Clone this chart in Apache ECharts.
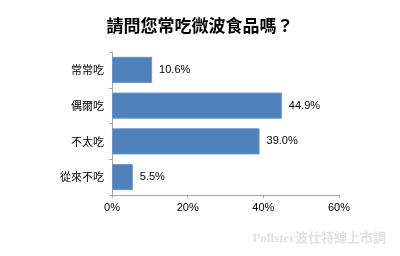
<!DOCTYPE html>
<html>
<head>
<meta charset="utf-8">
<script src="https://cdn.jsdelivr.net/npm/echarts@6/dist/echarts.min.js"></script>
<style>
  html, body { margin: 0; padding: 0; background: #fff; }
  #chart { width: 400px; height: 256px; }
</style>
</head>
<body>
<div id="chart"></div>
<script>
// Survey answers, listed top to bottom
const categories = ['常常吃', '偶爾吃', '不太吃', '從來不吃'];
const percentages = [10.6, 44.9, 39.0, 5.5];
const axisTicks = [0, 20, 40, 60];

const chart = echarts.init(document.getElementById('chart'), null, { renderer: 'canvas' });
const cjk = '"Noto Sans CJK TC", "Noto Sans CJK SC", sans-serif';

chart.setOption({
  backgroundColor: '#ffffff',
  animation: false,
  title: {
    text: '請問您常吃微波食品嗎？',
    left: 'center',
    top: 12,
    textStyle: { fontFamily: cjk, fontSize: 17, fontWeight: 'bold', color: '#000' }
  },
  graphic: [{
    type: 'text',
    right: 14,
    top: 232,
    style: {
      text: 'Pollster波仕特線上市調',
      fontFamily: '"Liberation Serif", "Noto Sans CJK TC", serif',
      fontSize: 13,
      fontWeight: 'bold',
      fill: '#e2e2e2'
    }
  }],
  grid: { left: 112, right: 61, top: 52, bottom: 61 },
  xAxis: {
    type: 'value',
    min: axisTicks[0],
    max: axisTicks[axisTicks.length - 1],
    interval: axisTicks[1] - axisTicks[0],
    axisLine: { show: true, lineStyle: { color: '#a6a6a6' } },
    axisTick: { show: true, length: 3, lineStyle: { color: '#a6a6a6' } },
    splitLine: { show: false },
    axisLabel: {
      formatter: v => v + '%',
      fontFamily: '"Liberation Sans", Arial, sans-serif',
      fontSize: 11,
      color: '#000',
      margin: 7
    }
  },
  yAxis: {
    type: 'category',
    inverse: true,
    data: categories,
    axisLine: { show: true, lineStyle: { color: '#a6a6a6' } },
    axisTick: { show: true, length: 3, lineStyle: { color: '#a6a6a6' } },
    axisLabel: { fontFamily: cjk, fontSize: 11, color: '#000', margin: 8 }
  },
  series: [{
    type: 'bar',
    data: percentages,
    barCategoryGap: '27%',
    itemStyle: { color: '#4f81bd', borderColor: '#6a95c9', borderWidth: 1 },
    label: {
      show: true,
      position: 'right',
      distance: 7,
      formatter: p => p.value.toFixed(1) + '%',
      fontFamily: '"Liberation Sans", Arial, sans-serif',
      fontSize: 11,
      color: '#000'
    }
  }]
});
</script>
</body>
</html>
